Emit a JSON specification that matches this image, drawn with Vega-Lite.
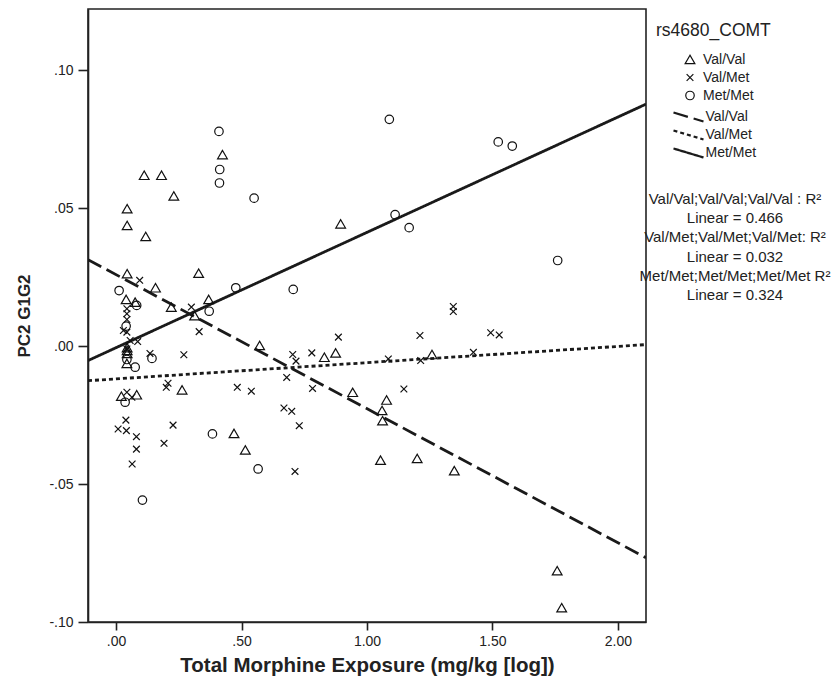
{
  "$schema": "https://vega.github.io/schema/vega-lite/v6.json",
  "width": 558,
  "height": 613,
  "autosize": {"type": "none"},
  "padding": {"left": 88, "top": 9, "right": 189, "bottom": 64},
  "background": "white",
  "config": {
    "font": "Liberation Sans",
    "view": {"stroke": "#222222", "strokeWidth": 1.6},
    "axis": {
      "domainColor": "#222222",
      "domainWidth": 1.6,
      "tickColor": "#222222",
      "tickWidth": 1.6,
      "labelColor": "#222222",
      "labelFont": "Liberation Sans",
      "labelFontSize": 14,
      "titleColor": "#222222",
      "titleFont": "Liberation Sans",
      "titleFontWeight": "bold",
      "grid": false
    },
    "legend": {"labelColor": "#222222", "titleColor": "#222222", "labelFont": "Liberation Sans", "titleFont": "Liberation Sans"}
  },
  "layer": [
    {
      "data": {
        "values": [
          {"x": -0.112, "y": 0.0314, "fit": "Val/Val"},
          {"x": 2.112, "y": -0.0767, "fit": "Val/Val"},
          {"x": -0.112, "y": -0.0125, "fit": "Val/Met"},
          {"x": 2.112, "y": 0.0006, "fit": "Val/Met"},
          {"x": -0.112, "y": -0.0052, "fit": "Met/Met"},
          {"x": 2.112, "y": 0.0878, "fit": "Met/Met"}
        ]
      },
      "mark": {"type": "line", "color": "#1a1a1a", "strokeWidth": 2.8, "clip": true},
      "encoding": {
        "x": {"field": "x", "type": "quantitative", "scale": {"domain": [-0.112, 2.112], "nice": false, "zero": false},
          "axis": {"values": [0, 0.5, 1, 1.5, 2], "labelExpr": "replace(replace(format(datum.value, '.2f'), '0.', '.'), '\u2212', '-')", "title": "Total Morphine Exposure (mg/kg [log])", "tickSize": 8, "labelPadding": 4, "titleFontSize": 20.5, "titlePadding": 7}},
        "y": {"field": "y", "type": "quantitative", "scale": {"domain": [-0.1, 0.1223], "nice": false, "zero": false},
          "axis": {"values": [-0.1, -0.05, 0, 0.05, 0.1], "labelExpr": "replace(replace(format(datum.value, '.2f'), '0.', '.'), '\u2212', '-')", "title": "PC2 G1G2", "tickSize": 10, "labelPadding": 5, "titleFontSize": 17, "titlePadding": 15}},
        "strokeDash": {
          "field": "fit", "type": "nominal", "sort": ["Val/Val", "Val/Met", "Met/Met"],
          "scale": {"range": [[15, 6], [4, 3], [1, 0]]},
          "legend": {
            "orient": "none", "legendX": 552, "legendY": 101, "padding": 0,
            "title": ["Val/Val;Val/Val;Val/Val : R²", "Linear = 0.466", "Val/Met;Val/Met;Val/Met: R²", "Linear = 0.032", "Met/Met;Met/Met;Met/Met R²", "Linear = 0.324"],
            "titleOrient": "bottom", "titleAnchor": "start", "titleAlign": "center",
            "titleFontSize": 15, "titleFontWeight": "normal", "titleLineHeight": 19.2, "titlePadding": 30, "titleLimit": 400,
            "labelFontSize": 14, "labelOffset": 10, "symbolOffset": -53.5, "rowPadding": 0,
            "symbolType": "M-3,-0.9L3,0.9", "symbolSize": 100, "symbolStrokeWidth": 2.25, "symbolStrokeColor": "#1a1a1a"
          }
        }
      }
    },
    {
      "data": {
        "values": [
          {"x": 0.112, "y": 0.0620, "g": "Val/Val"},
          {"x": 0.181, "y": 0.0620, "g": "Val/Val"},
          {"x": 0.230, "y": 0.0545, "g": "Val/Val"},
          {"x": 0.424, "y": 0.0695, "g": "Val/Val"},
          {"x": 0.044, "y": 0.0499, "g": "Val/Val"},
          {"x": 0.044, "y": 0.0438, "g": "Val/Val"},
          {"x": 0.118, "y": 0.0398, "g": "Val/Val"},
          {"x": 0.044, "y": 0.0263, "g": "Val/Val"},
          {"x": 0.329, "y": 0.0265, "g": "Val/Val"},
          {"x": 0.157, "y": 0.0212, "g": "Val/Val"},
          {"x": 0.040, "y": 0.0170, "g": "Val/Val"},
          {"x": 0.076, "y": 0.0160, "g": "Val/Val"},
          {"x": 0.220, "y": 0.0142, "g": "Val/Val"},
          {"x": 0.369, "y": 0.0170, "g": "Val/Val"},
          {"x": 0.313, "y": 0.0111, "g": "Val/Val"},
          {"x": 0.572, "y": 0.0003, "g": "Val/Val"},
          {"x": 0.044, "y": -0.0005, "g": "Val/Val"},
          {"x": 0.044, "y": -0.0015, "g": "Val/Val"},
          {"x": 0.044, "y": -0.0026, "g": "Val/Val"},
          {"x": 0.043, "y": -0.0062, "g": "Val/Val"},
          {"x": 0.263, "y": -0.0158, "g": "Val/Val"},
          {"x": 0.021, "y": -0.0181, "g": "Val/Val"},
          {"x": 0.082, "y": -0.0176, "g": "Val/Val"},
          {"x": 0.470, "y": -0.0316, "g": "Val/Val"},
          {"x": 0.515, "y": -0.0376, "g": "Val/Val"},
          {"x": 0.895, "y": 0.0444, "g": "Val/Val"},
          {"x": 0.830, "y": -0.0040, "g": "Val/Val"},
          {"x": 0.875, "y": -0.0024, "g": "Val/Val"},
          {"x": 1.259, "y": -0.0030, "g": "Val/Val"},
          {"x": 0.943, "y": -0.0167, "g": "Val/Val"},
          {"x": 1.078, "y": -0.0195, "g": "Val/Val"},
          {"x": 1.060, "y": -0.0233, "g": "Val/Val"},
          {"x": 1.062, "y": -0.0270, "g": "Val/Val"},
          {"x": 1.054, "y": -0.0413, "g": "Val/Val"},
          {"x": 1.200, "y": -0.0407, "g": "Val/Val"},
          {"x": 1.348, "y": -0.0451, "g": "Val/Val"},
          {"x": 1.758, "y": -0.0814, "g": "Val/Val"},
          {"x": 1.776, "y": -0.0948, "g": "Val/Val"},
          {"x": 0.094, "y": 0.0239, "g": "Val/Met"},
          {"x": 0.300, "y": 0.0142, "g": "Val/Met"},
          {"x": 0.043, "y": 0.0136, "g": "Val/Met"},
          {"x": 0.043, "y": 0.0118, "g": "Val/Met"},
          {"x": 0.043, "y": 0.0097, "g": "Val/Met"},
          {"x": 0.029, "y": 0.0057, "g": "Val/Met"},
          {"x": 0.043, "y": 0.0051, "g": "Val/Met"},
          {"x": 0.331, "y": 0.0053, "g": "Val/Met"},
          {"x": 0.056, "y": 0.0021, "g": "Val/Met"},
          {"x": 0.086, "y": 0.0017, "g": "Val/Met"},
          {"x": 0.043, "y": -0.0010, "g": "Val/Met"},
          {"x": 0.135, "y": -0.0026, "g": "Val/Met"},
          {"x": 0.270, "y": -0.0031, "g": "Val/Met"},
          {"x": 0.207, "y": -0.0134, "g": "Val/Met"},
          {"x": 0.200, "y": -0.0149, "g": "Val/Met"},
          {"x": 0.483, "y": -0.0149, "g": "Val/Met"},
          {"x": 0.539, "y": -0.0163, "g": "Val/Met"},
          {"x": 0.043, "y": -0.0167, "g": "Val/Met"},
          {"x": 0.063, "y": -0.0185, "g": "Val/Met"},
          {"x": 0.039, "y": -0.0268, "g": "Val/Met"},
          {"x": 0.008, "y": -0.0300, "g": "Val/Met"},
          {"x": 0.041, "y": -0.0306, "g": "Val/Met"},
          {"x": 0.081, "y": -0.0328, "g": "Val/Met"},
          {"x": 0.081, "y": -0.0373, "g": "Val/Met"},
          {"x": 0.064, "y": -0.0427, "g": "Val/Met"},
          {"x": 0.227, "y": -0.0286, "g": "Val/Met"},
          {"x": 0.191, "y": -0.0352, "g": "Val/Met"},
          {"x": 1.344, "y": 0.0144, "g": "Val/Met"},
          {"x": 1.344, "y": 0.0126, "g": "Val/Met"},
          {"x": 0.886, "y": 0.0033, "g": "Val/Met"},
          {"x": 1.211, "y": 0.0039, "g": "Val/Met"},
          {"x": 0.704, "y": -0.0030, "g": "Val/Met"},
          {"x": 0.717, "y": -0.0054, "g": "Val/Met"},
          {"x": 0.780, "y": -0.0024, "g": "Val/Met"},
          {"x": 1.085, "y": -0.0046, "g": "Val/Met"},
          {"x": 1.214, "y": -0.0052, "g": "Val/Met"},
          {"x": 0.680, "y": -0.0113, "g": "Val/Met"},
          {"x": 0.783, "y": -0.0153, "g": "Val/Met"},
          {"x": 1.147, "y": -0.0155, "g": "Val/Met"},
          {"x": 0.669, "y": -0.0224, "g": "Val/Met"},
          {"x": 0.700, "y": -0.0236, "g": "Val/Met"},
          {"x": 0.730, "y": -0.0288, "g": "Val/Met"},
          {"x": 0.713, "y": -0.0454, "g": "Val/Met"},
          {"x": 1.493, "y": 0.0049, "g": "Val/Met"},
          {"x": 1.527, "y": 0.0041, "g": "Val/Met"},
          {"x": 1.424, "y": -0.0022, "g": "Val/Met"},
          {"x": 0.410, "y": 0.0779, "g": "Met/Met"},
          {"x": 0.413, "y": 0.0641, "g": "Met/Met"},
          {"x": 0.412, "y": 0.0592, "g": "Met/Met"},
          {"x": 0.550, "y": 0.0537, "g": "Met/Met"},
          {"x": 0.012, "y": 0.0202, "g": "Met/Met"},
          {"x": 0.477, "y": 0.0212, "g": "Met/Met"},
          {"x": 0.082, "y": 0.0148, "g": "Met/Met"},
          {"x": 0.371, "y": 0.0127, "g": "Met/Met"},
          {"x": 0.040, "y": 0.0073, "g": "Met/Met"},
          {"x": 0.143, "y": -0.0044, "g": "Met/Met"},
          {"x": 0.043, "y": -0.0048, "g": "Met/Met"},
          {"x": 0.076, "y": -0.0076, "g": "Met/Met"},
          {"x": 0.036, "y": -0.0203, "g": "Met/Met"},
          {"x": 0.384, "y": -0.0318, "g": "Met/Met"},
          {"x": 0.566, "y": -0.0445, "g": "Met/Met"},
          {"x": 0.105, "y": -0.0558, "g": "Met/Met"},
          {"x": 1.089, "y": 0.0823, "g": "Met/Met"},
          {"x": 1.112, "y": 0.0477, "g": "Met/Met"},
          {"x": 1.168, "y": 0.0430, "g": "Met/Met"},
          {"x": 0.706, "y": 0.0206, "g": "Met/Met"},
          {"x": 1.523, "y": 0.0741, "g": "Met/Met"},
          {"x": 1.579, "y": 0.0726, "g": "Met/Met"},
          {"x": 1.760, "y": 0.0311, "g": "Met/Met"}
        ]
      },
      "mark": {"type": "point", "filled": false, "color": "#111111", "strokeWidth": 1.2, "opacity": 1},
      "encoding": {
        "x": {"field": "x", "type": "quantitative"},
        "y": {"field": "y", "type": "quantitative"},
        "shape": {
          "field": "g", "type": "nominal",
          "scale": {"domain": ["Val/Val", "Val/Met", "Met/Met"], "range": ["triangle-up", "M-1,-1L1,1M-1,1L1,-1", "circle"]},
          "legend": {
            "orient": "right", "offset": -3, "padding": 13,
            "title": "rs4680_COMT", "titleFontSize": 17.5, "titleFontWeight": "normal", "titlePadding": 13, "titleLimit": 300, "titleAnchor": "start",
            "labelFontSize": 14, "labelOffset": 6, "symbolOffset": 27, "rowPadding": 4,
            "symbolStrokeWidth": 1.2, "symbolStrokeColor": "#111111"
          }
        },
        "size": {
          "field": "g", "type": "nominal",
          "scale": {"type": "ordinal", "domain": ["Val/Val", "Val/Met", "Met/Met"], "range": [95, 45, 72]}
        }
      }
    }
  ]
}
